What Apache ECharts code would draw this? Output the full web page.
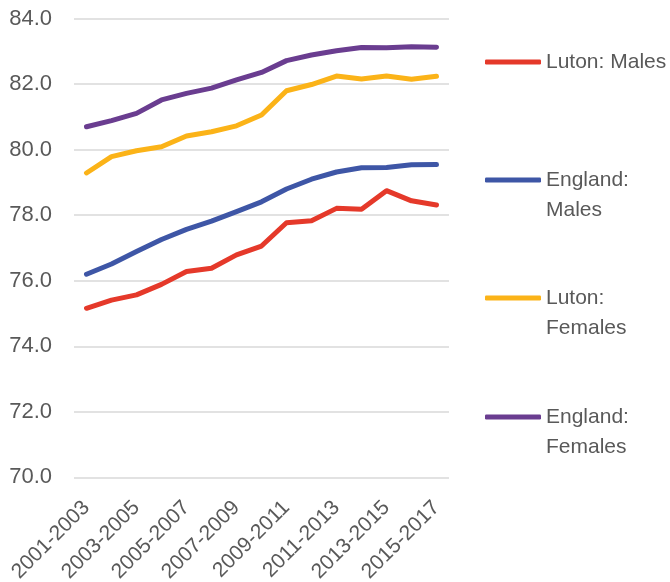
<!DOCTYPE html>
<html>
<head>
<meta charset="utf-8">
<script src="https://cdn.jsdelivr.net/npm/echarts@6/dist/echarts.min.js"></script>
<style>
  html, body { margin: 0; padding: 0; background: #ffffff; }
  #chart { width: 670px; height: 582px; }
</style>
</head>
<body>
<div id="chart"></div>
<script>
// Life expectancy at birth (years), three-year rolling periods
const periods = [
  '2001-2003', '2002-2004', '2003-2005', '2004-2006', '2005-2007',
  '2006-2008', '2007-2009', '2008-2010', '2009-2011', '2010-2012',
  '2011-2013', '2012-2014', '2013-2015', '2014-2016', '2015-2017'
];
const lutonMales =      [75.16, 75.41, 75.57, 75.89, 76.28, 76.38, 76.79, 77.06, 77.77, 77.83, 78.21, 78.18, 78.75, 78.44, 78.31];
const englandMales =    [76.20, 76.51, 76.89, 77.26, 77.57, 77.82, 78.11, 78.41, 78.80, 79.10, 79.32, 79.45, 79.46, 79.54, 79.55];
const lutonFemales =    [79.29, 79.79, 79.97, 80.09, 80.42, 80.55, 80.73, 81.06, 81.80, 81.99, 82.25, 82.16, 82.25, 82.15, 82.24];
const englandFemales =  [80.70, 80.89, 81.11, 81.52, 81.72, 81.88, 82.13, 82.36, 82.72, 82.89, 83.02, 83.12, 83.11, 83.14, 83.13];

// Legend entries: the wrapped ones get an empty leading line so the
// key line sits level with the first line of text.
const seriesDefs = [
  { name: 'Luton: Males',     data: lutonMales,     color: '#E5392A', label: 'Luton: Males',         top: 47 },
  { name: 'England: Males',   data: englandMales,   color: '#3E56A6', label: ' \nEngland:\nMales',   top: 135 },
  { name: 'Luton: Females',   data: lutonFemales,   color: '#FBB318', label: ' \nLuton:\nFemales',   top: 253 },
  { name: 'England: Females', data: englandFemales, color: '#6A3D90', label: ' \nEngland:\nFemales', top: 372 }
];

const FONT = '"Liberation Sans", Arial, sans-serif';
const TEXT = '#595959';

const chart = echarts.init(document.getElementById('chart'), null, { renderer: 'canvas' });

const option = {
  animation: false,
  backgroundColor: '#ffffff',
  textStyle: { fontFamily: FONT },
  grid: {
    left: 74, right: 221, top: 18.7, bottom: 104.7,
    containLabel: false,
    outerBoundsMode: 'none'
  },
  xAxis: {
    type: 'category',
    data: periods,
    boundaryGap: true,
    axisLine: { show: false },
    axisTick: { show: false },
    axisLabel: {
      interval: 1,
      rotate: 45,
      margin: 27,
      color: TEXT,
      fontSize: 21,
      fontFamily: FONT
    }
  },
  yAxis: {
    type: 'value',
    min: 70,
    max: 84,
    interval: 2,
    axisLine: { show: false },
    axisTick: { show: false },
    splitLine: { lineStyle: { color: '#D9D9D9', width: 1.5 } },
    axisLabel: {
      color: TEXT,
      fontSize: 22,
      fontFamily: FONT,
      margin: 22,
      formatter: v => v.toFixed(1)
    }
  },
  legend: seriesDefs.map(s => ({
    data: [s.name],
    left: 485,
    top: s.top,
    padding: 0,
    orient: 'vertical',
    icon: 'roundRect',
    itemWidth: 56,
    itemHeight: 5,
    selectedMode: false,
    formatter: () => s.label,
    textStyle: {
      color: TEXT,
      fontSize: 21,
      fontFamily: FONT,
      lineHeight: 30
    }
  })),
  series: seriesDefs.map(s => ({
    name: s.name,
    type: 'line',
    data: s.data,
    symbol: 'none',
    smooth: false,
    color: s.color,
    lineStyle: { color: s.color, width: 5, cap: 'round', join: 'round' },
    itemStyle: { color: s.color }
  }))
};

chart.setOption(option);
</script>
</body>
</html>
